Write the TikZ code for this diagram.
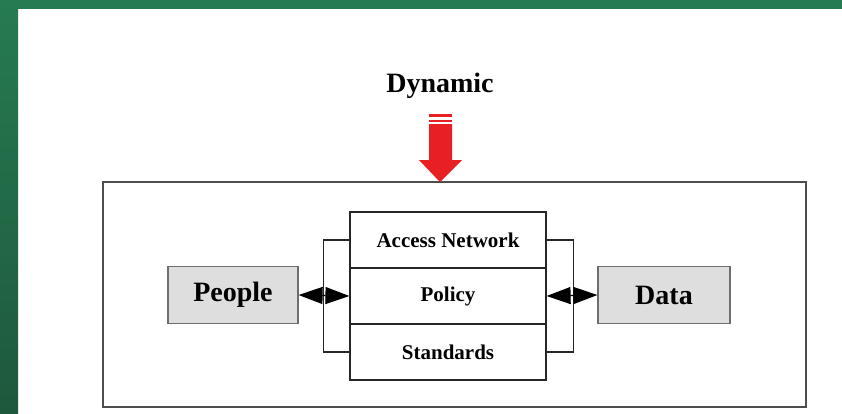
\documentclass[tikz,border=0pt]{standalone}
\usepackage{fontspec}
\setmainfont{Liberation Serif}
\usepackage{xcolor}
\usetikzlibrary{arrows.meta,calc,positioning}
\definecolor{slidegreen}{RGB}{38,123,82}
\definecolor{slidegreendark}{RGB}{30,88,60}
\definecolor{boxgray}{RGB}{222,222,222}
\definecolor{edgegray}{RGB}{110,110,110}
\definecolor{dynred}{RGB}{232,32,36}

\begin{document}
\begin{tikzpicture}[
    x=1pt, y=-1pt,
    sidebox/.style={draw=edgegray, fill=boxgray, line width=1.2pt, minimum width=130pt, minimum height=57pt, font=\fontsize{28}{30}\selectfont\bfseries},
    layer/.style={draw=black!85, fill=white, line width=1.2pt, minimum width=196pt, minimum height=56pt, font=\fontsize{21}{24}\selectfont\bfseries},
    dblarrow/.style={{Triangle[length=24pt,width=17pt]}-{Triangle[length=24pt,width=17pt]}, line width=1.2pt},
    bracket/.style={draw=black!85, line width=1.2pt}
]

% Canvas and slide border
\useasboundingbox (0,0) rectangle (842,413);
\fill[white] (0,0) rectangle (842,413);
\fill[slidegreen] (0,0) rectangle (842,9);
\shade[top color=slidegreen, bottom color=slidegreendark] (0,0) rectangle (18,413);

% Outer frame
\draw[edgegray!70!black, line width=1.2pt] (103,182) rectangle (806,407);

% Title
\node[font=\fontsize{28}{30}\selectfont\bfseries] (dynamic) at (440,86) {Dynamic};

% Red arrow
\fill[dynred] (429,114) rectangle (452,117);
\fill[dynred] (429,119.5) rectangle (452,122);
\fill[dynred] (429,124) -- (452,124) -- (452,160) -- (462,160) -- (440,182)
    -- (419,160) -- (429,160) -- cycle;

% Central stack
\node[layer] (access) at (448,240) {Access Network};
\node[layer, below=-1.2pt of access] (policy) {Policy};
\node[layer, below=-1.2pt of policy] (standards) {Standards};

% Side boxes
\node[sidebox] (people) at (233,295) {\raisebox{-3pt}{People}};
\node[sidebox, minimum width=132pt] (data) at (664,295) {\raisebox{-1pt}{Data}};

% Brackets
\draw[bracket] (access.west) -- ++(-26,0) |- (standards.west);
\draw[bracket] (access.east) -- ++(27,0) |- (standards.east);

% Double arrows
\draw[dblarrow] (people.east) -- (policy.west);
\draw[dblarrow] (data.west) -- (policy.east);

\end{tikzpicture}
\end{document}
